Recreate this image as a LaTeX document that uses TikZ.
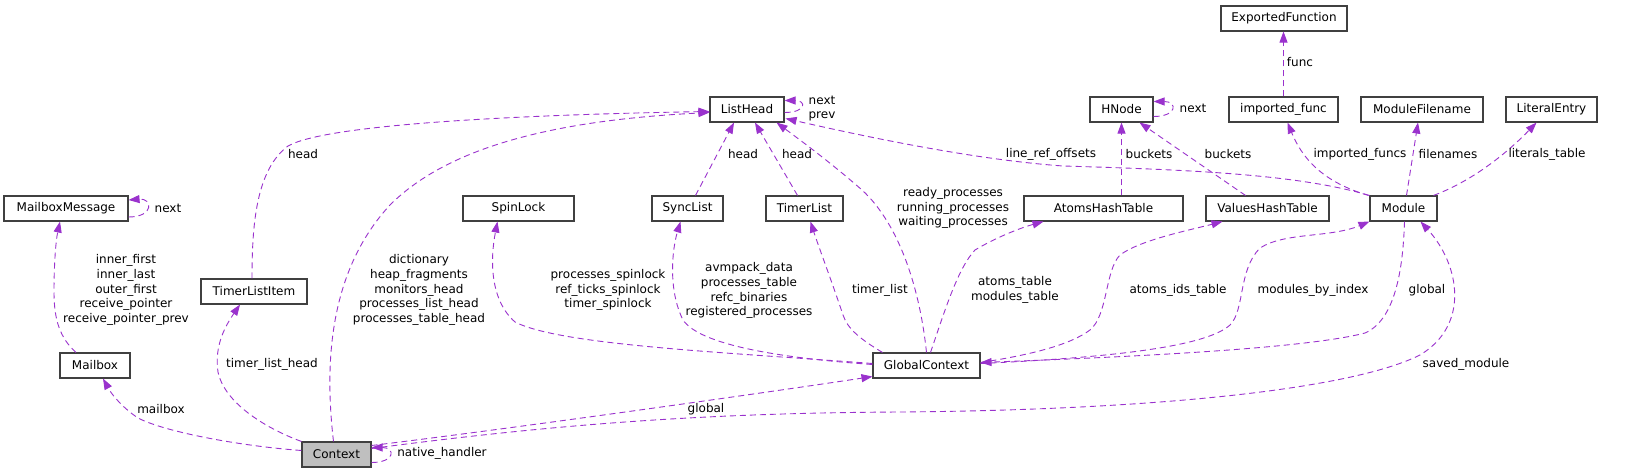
\documentclass[tikz,border=0pt]{standalone}
\usepackage{fontspec}
\setmainfont{DejaVu Sans}
\usetikzlibrary{arrows.meta,calc}
\definecolor{edgec}{HTML}{9A32CD}
\definecolor{boxc}{HTML}{404040}
\tikzset{
  cls/.style={draw=boxc, line width=1.1pt, fill=white, minimum height=25pt, inner sep=0pt, font=\fontsize{12}{14.8}\selectfont},
  edge/.style={draw=edgec, line width=0.9pt, dash pattern=on 6pt off 4pt, -{Triangle[length=11pt,width=8pt,fill=edgec]}},
  lbl/.style={font=\fontsize{12}{14.8}\selectfont, inner sep=0pt, align=center, text=black},
}
\begin{document}
\begin{tikzpicture}[x=1pt,y=-1pt]
\fill[white] (0,0) rectangle (1639,473);
\useasboundingbox (0,0) rectangle (1639,473);
% nodes
\node[cls, minimum width=124pt] (MailboxMessage) at (66,208.5) {MailboxMessage};
\node[cls, minimum width=70pt] (Mailbox) at (95,365.5) {Mailbox};
\node[cls, minimum width=106pt] (TimerListItem) at (254,291.5) {TimerListItem};
\node[cls, minimum width=69pt, fill=black!25] (Context) at (336.5,454.5) {Context};
\node[cls, minimum width=111pt] (SpinLock) at (518.5,208.5) {SpinLock};
\node[cls, minimum width=71pt] (SyncList) at (687.5,208.5) {SyncList};
\node[cls, minimum width=77pt] (TimerList) at (804.5,208.5) {TimerList};
\node[cls, minimum width=74pt] (ListHead) at (747,109.5) {ListHead};
\node[cls, minimum width=107pt] (GlobalContext) at (926.5,365.5) {GlobalContext};
\node[cls, minimum width=159pt] (AtomsHashTable) at (1103.5,208.5) {AtomsHashTable};
\node[cls, minimum width=123pt] (ValuesHashTable) at (1267.5,208.5) {ValuesHashTable};
\node[cls, minimum width=67pt] (Module) at (1403.5,208.5) {Module};
\node[cls, minimum width=63pt] (HNode) at (1121.5,109.5) {HNode};
\node[cls, minimum width=109pt] (importedfunc) at (1283.5,109.5) {imported\_func};
\node[cls, minimum width=122pt] (ModuleFilename) at (1422,109.5) {ModuleFilename};
\node[cls, minimum width=91pt] (LiteralEntry) at (1551.5,109.5) {LiteralEntry};
\node[cls, minimum width=126pt] (ExportedFunction) at (1284,18.5) {ExportedFunction};
% edges
\draw[edge] ($(MailboxMessage.east)+(0,8.5)$) .. controls +(26,0) and +(24,-2) .. ($(MailboxMessage.east)+(0,-8.5)$);
\draw[edge] ($(Mailbox.north)+(-19,0)$) .. controls (60,338) and (54,320) .. (54,292) .. controls (54,262) and (56,240) .. ($(MailboxMessage.south)+(-6,0)$);
\draw[edge] ($(Context.west)+(0,-4)$) .. controls (240,446) and (165,432) .. (138,418) .. controls (123,408) and (112,395) .. ($(Mailbox.south)+(8,0)$);
\draw[edge] (Context.north west) .. controls (270,430) and (225,405) .. (218,372) .. controls (214,345) and (226,325) .. ($(TimerListItem.south)+(-14,0)$);
\draw[edge] ($(TimerListItem.north)+(-2,0)$) .. controls (252,225) and (256,170) .. (288,146) .. controls (330,122) and (560,114) .. ($(ListHead.west)+(0,2)$);
\draw[edge] ($(Context.north)+(-3,0)$) .. controls (324,360) and (330,270) .. (390,205) .. controls (450,145) and (560,120) .. ($(ListHead.west)+(0,3)$);
\draw[edge] ($(SyncList.north)+(8,0)$) -- ($(ListHead.south)+(-13,0)$);
\draw[edge] ($(TimerList.north)+(-7,0)$) -- ($(ListHead.south)+(8,0)$);
\draw[edge] (GlobalContext.north) .. controls (920,290) and (900,225) .. (862,190) .. controls (830,162) and (800,140) .. ($(ListHead.south east)+(-8,0)$);
\draw[edge] ($(ListHead.east)+(0,3)$) .. controls +(22,0) and +(22,0) .. ($(ListHead.east)+(0,-9)$);
\draw[edge] (Module.north west) .. controls (1300,175) and (1200,170) .. (1063,166) .. controls (980,160) and (880,140) .. ($(ListHead.east)+(1,9)$);
\draw[edge] ($(GlobalContext.west)+(0,-2)$) .. controls (720,352) and (560,345) .. (515,322) .. controls (490,300) and (490,260) .. ($(SpinLock.south)+(-21,0)$);
\draw[edge] ($(GlobalContext.west)+(0,-1)$) .. controls (780,358) and (700,345) .. (683,320) .. controls (668,290) and (672,250) .. ($(SyncList.south)+(-7,0)$);
\draw[edge] ($(GlobalContext.north west)+(10,0)$) .. controls (862,340) and (848,330) .. (843,315) .. controls (832,282) and (818,245) .. ($(TimerList.south)+(6,0)$);
\draw[edge] ($(GlobalContext.north)+(4,0)$) .. controls (945,310) and (958,268) .. (975,250) .. controls (995,238) and (1020,228) .. ($(AtomsHashTable.south)+(-60,0)$);
\draw[edge] ($(GlobalContext.east)+(0,-3)$) .. controls (1030,355) and (1070,345) .. (1090,330) .. controls (1108,315) and (1105,270) .. (1120,255) .. controls (1140,240) and (1190,230) .. ($(ValuesHashTable.south)+(-45,0)$);
\draw[edge] ($(GlobalContext.east)+(0,-2)$) .. controls (1100,358) and (1205,348) .. (1230,325) .. controls (1245,310) and (1238,270) .. (1260,248) .. controls (1285,232) and (1330,238) .. (Module.south west);
\draw[edge] ($(Module.south)+(1,0)$) .. controls (1403,270) and (1395,320) .. (1365,333) .. controls (1300,350) and (1100,358) .. ($(GlobalContext.east)+(0,-3)$);
\draw[edge] (HNode.south |- AtomsHashTable.north) -- (HNode.south);
\draw[edge] ($(ValuesHashTable.north)+(-22,0)$) -- ($(HNode.south)+(18,0)$);
\draw[edge] ($(HNode.east)+(0,7)$) .. controls +(24,0) and +(24,0) .. ($(HNode.east)+(0,-8)$);
\draw[edge] (importedfunc.north) -- (importedfunc.north |- ExportedFunction.south);
\draw[edge] ($(Module.north west)+(-1,0)$) .. controls (1330,184) and (1305,165) .. ($(importedfunc.south)+(4,0)$);
\draw[edge] ($(Module.north)+(3,0)$) -- ($(ModuleFilename.south)+(-4,0)$);
\draw[edge] ($(Module.north)+(30,0)$) .. controls (1475,180) and (1510,150) .. ($(LiteralEntry.south)+(-15,0)$);
\draw[edge] ($(Context.east)+(0,-9)$) .. controls (500,430) and (750,395) .. ($(GlobalContext.south west)+(0,-2)$);
\draw[edge] ($(Context.east)+(0,-6)$) .. controls (550,425) and (700,413) .. (900,412) .. controls (1150,410) and (1350,390) .. (1420,355) .. controls (1470,325) and (1460,265) .. ($(Module.south)+(17,0)$);
\draw[edge] ($(Context.east)+(0,8)$) .. controls +(24,0) and +(24,0) .. ($(Context.east)+(0,-7)$);
% labels
\node[lbl] (l1) at (168,208) {next};
\node[lbl] (l2) at (126,290) {inner\_first\\inner\_last\\outer\_first\\receive\_pointer\\receive\_pointer\_prev};
\node[lbl] (l3) at (303,154) {head};
\node[lbl] (l4) at (272,364) {timer\_list\_head};
\node[lbl] (l5) at (161,409) {mailbox};
\node[lbl] (l6) at (419,290) {dictionary\\heap\_fragments\\monitors\_head\\processes\_list\_head\\processes\_table\_head};
\node[lbl] (l7) at (442,453) {native\_handler};
\node[lbl] (l8) at (608,290) {processes\_spinlock\\ref\_ticks\_spinlock\\timer\_spinlock};
\node[lbl] (l9) at (749,290.5) {avmpack\_data\\processes\_table\\refc\_binaries\\registered\_processes};
\node[lbl] (l10) at (743,154) {head};
\node[lbl] (l11) at (797,154) {head};
\node[lbl] (l12) at (822,108.5) {next\\prev};
\node[lbl] (l13) at (880,290) {timer\_list};
\node[lbl] (l14) at (953,208) {ready\_processes\\running\_processes\\waiting\_processes};
\node[lbl] (l15) at (1015,290) {atoms\_table\\modules\_table};
\node[lbl] (l16) at (706,409) {global};
\node[lbl] (l17) at (1051,154) {line\_ref\_offsets};
\node[lbl] (l18) at (1149,154) {buckets};
\node[lbl] (l19) at (1228,154) {buckets};
\node[lbl] (l20) at (1193,108) {next};
\node[lbl] (l21) at (1300,62) {func};
\node[lbl] (l22) at (1360,154) {imported\_funcs};
\node[lbl] (l23) at (1448,154) {filenames};
\node[lbl] (l24) at (1547,154) {literals\_table};
\node[lbl] (l25) at (1178,290) {atoms\_ids\_table};
\node[lbl] (l26) at (1313,290) {modules\_by\_index};
\node[lbl] (l27) at (1427,290) {global};
\node[lbl] (l28) at (1466,364) {saved\_module};
\end{tikzpicture}
\end{document}
